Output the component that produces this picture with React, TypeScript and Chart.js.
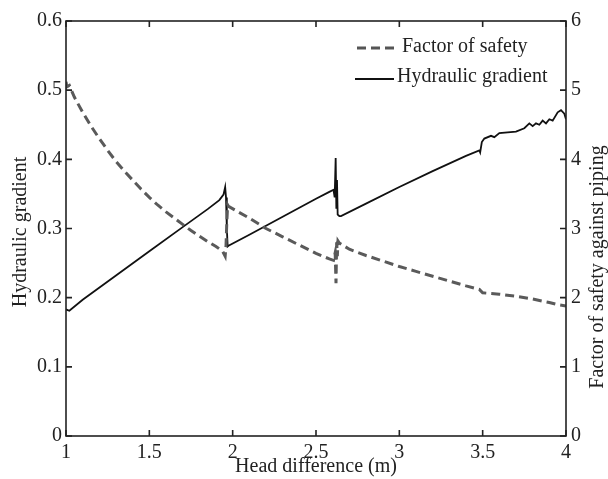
import React, { useEffect, useRef } from "react";
import { Chart, registerables } from "chart.js";

Chart.register(...registerables);

// ---- data ----
const hgHead = [1.0, 1.02, 1.1, 1.3, 1.5, 1.7, 1.85, 1.92, 1.945, 1.955, 1.96, 1.965, 1.97, 1.975, 2.1, 2.3, 2.5, 2.58, 2.605, 2.612, 2.618, 2.622, 2.626, 2.63, 2.64, 2.65, 2.8, 3.0, 3.2, 3.4, 3.48, 3.485, 3.495, 3.51, 3.55, 3.57, 3.6, 3.7, 3.75, 3.78, 3.8, 3.82, 3.84, 3.86, 3.88, 3.9, 3.92, 3.95, 3.97, 3.99, 4.0];
const hgValue = [0.183, 0.181, 0.197, 0.232, 0.267, 0.302, 0.328, 0.341, 0.349, 0.36, 0.345, 0.3, 0.274, 0.275, 0.291, 0.317, 0.343, 0.353, 0.356, 0.345, 0.402, 0.33, 0.37, 0.32, 0.318, 0.318, 0.336, 0.36, 0.383, 0.405, 0.413, 0.41, 0.425, 0.43, 0.434, 0.432, 0.438, 0.44, 0.445, 0.452, 0.448, 0.452, 0.45, 0.456, 0.452, 0.458, 0.456, 0.468, 0.471, 0.466, 0.458];

const fsHead = [1.0, 1.005, 1.02, 1.05, 1.1, 1.15, 1.2, 1.25, 1.3, 1.35, 1.4, 1.45, 1.5, 1.55, 1.6, 1.65, 1.7, 1.75, 1.8, 1.85, 1.9, 1.94, 1.955, 1.96, 1.965, 1.97, 1.975, 2.1, 2.2, 2.3, 2.4, 2.5, 2.58, 2.605, 2.615, 2.62, 2.624, 2.628, 2.632, 2.64, 2.7, 2.8, 2.9, 3.0, 3.1, 3.2, 3.3, 3.4, 3.48, 3.5, 3.55, 3.6, 3.7, 3.8, 3.9, 3.95, 4.0];
const fsValue = [5.12, 5.05, 5.07, 4.9, 4.68, 4.48, 4.3, 4.13, 3.97, 3.83, 3.7, 3.57, 3.45, 3.34, 3.24, 3.15, 3.06, 2.97, 2.89, 2.81, 2.74, 2.67, 2.6, 2.75, 3.1, 3.34, 3.32, 3.15, 3.0, 2.88, 2.76, 2.64, 2.56, 2.54, 2.65, 2.21, 2.8, 2.6, 2.82, 2.79, 2.7, 2.61, 2.53, 2.45, 2.38, 2.31, 2.24, 2.17, 2.12, 2.07, 2.06, 2.05, 2.02, 1.98, 1.93, 1.9, 1.88];

const xTicks = [1, 1.5, 2, 2.5, 3, 3.5, 4];
const yLeftTicks = [0, 0.1, 0.2, 0.3, 0.4, 0.5, 0.6];
const yRightTicks = [0, 1, 2, 3, 4, 5, 6];

const xTitle = "Head difference (m)";
const yLeftTitle = "Hydraulic gradient";
const yRightTitle = "Factor of safety against piping";
const fsName = "Factor of safety";
const hgName = "Hydraulic gradient";

const FONT = "20px 'Liberation Serif', 'Times New Roman', serif";
const TEXT = "#222";

const decorPlugin = {
  id: "decor",
  afterDraw(chart: any) {
    const ctx = chart.ctx as CanvasRenderingContext2D;
    const a = chart.chartArea;
    const sx = chart.scales.x;
    const sl = chart.scales.y;
    const sr = chart.scales.y1;
    ctx.save();
    // box
    ctx.strokeStyle = "#222";
    ctx.lineWidth = 1.6;
    ctx.setLineDash([]);
    ctx.strokeRect(a.left, a.top, a.right - a.left, a.bottom - a.top);
    // ticks (inward)
    const L = 6;
    ctx.beginPath();
    xTicks.forEach((v) => {
      const px = sx.getPixelForValue(v);
      ctx.moveTo(px, a.bottom);
      ctx.lineTo(px, a.bottom - L);
      ctx.moveTo(px, a.top);
      ctx.lineTo(px, a.top + L);
    });
    yLeftTicks.forEach((v) => {
      const py = sl.getPixelForValue(v);
      ctx.moveTo(a.left, py);
      ctx.lineTo(a.left + L, py);
    });
    yRightTicks.forEach((v) => {
      const py = sr.getPixelForValue(v);
      ctx.moveTo(a.right, py);
      ctx.lineTo(a.right - L, py);
    });
    ctx.stroke();

    // titles
    ctx.fillStyle = TEXT;
    ctx.font = FONT;
    ctx.textAlign = "center";
    ctx.textBaseline = "middle";
    ctx.fillText(xTitle, (a.left + a.right) / 2, 467);
    ctx.save();
    ctx.translate(21, 232);
    ctx.rotate(-Math.PI / 2);
    ctx.fillText(yLeftTitle, 0, 0);
    ctx.restore();
    ctx.save();
    ctx.translate(598, 267);
    ctx.rotate(-Math.PI / 2);
    ctx.fillText(yRightTitle, 0, 0);
    ctx.restore();

    // legend
    ctx.textAlign = "left";
    ctx.strokeStyle = "#555";
    ctx.lineWidth = 3;
    ctx.setLineDash([9, 5]);
    ctx.beginPath();
    ctx.moveTo(357, 48);
    ctx.lineTo(398, 48);
    ctx.stroke();
    ctx.fillText(fsName, 402, 47);
    ctx.strokeStyle = "#111";
    ctx.lineWidth = 1.8;
    ctx.setLineDash([]);
    ctx.beginPath();
    ctx.moveTo(355, 79);
    ctx.lineTo(394, 79);
    ctx.stroke();
    ctx.fillText(hgName, 397, 77);
    ctx.restore();
  },
};

export default function App() {
  const ref = useRef<HTMLCanvasElement | null>(null);
  useEffect(() => {
    if (!ref.current) return;
    const tickFont = { family: "'Liberation Serif', 'Times New Roman', serif", size: 20 };
    const chart = new Chart(ref.current, {
      type: "scatter",
      data: {
        datasets: [
          {
            label: fsName,
            data: fsHead.map((x, i) => ({ x, y: fsValue[i] })),
            yAxisID: "y1",
            showLine: true,
            borderColor: "#5a5a5a",
            borderWidth: 3,
            borderDash: [9, 5],
            pointRadius: 0,
            tension: 0,
          },
          {
            label: hgName,
            data: hgHead.map((x, i) => ({ x, y: hgValue[i] })),
            yAxisID: "y",
            showLine: true,
            borderColor: "#111",
            borderWidth: 1.8,
            pointRadius: 0,
            tension: 0,
          },
        ],
      },
      options: {
        responsive: false,
        animation: false,
        layout: { padding: { top: 21, left: 0, right: 0, bottom: 0 } },
        plugins: { legend: { display: false }, tooltip: { enabled: false } },
        scales: {
          x: {
            type: "linear",
            min: 1,
            max: 4,
            afterBuildTicks: (s: any) => {
              s.ticks = xTicks.map((v) => ({ value: v }));
            },
            afterFit: (s: any) => {
              s.height = 43;
            },
            grid: { display: false, drawTicks: false },
            border: { display: false },
            ticks: {
              font: tickFont,
              color: TEXT,
              padding: 5,
              maxRotation: 0,
              autoSkip: false,
              callback: (v: any) => String(v),
            },
          },
          y: {
            type: "linear",
            position: "left",
            min: 0,
            max: 0.6,
            afterBuildTicks: (s: any) => {
              s.ticks = yLeftTicks.map((v) => ({ value: v }));
            },
            afterFit: (s: any) => {
              s.width = 66;
            },
            grid: { display: false, drawTicks: false },
            border: { display: false },
            ticks: {
              font: tickFont,
              color: TEXT,
              padding: 4,
              autoSkip: false,
              callback: (v: any) => String(v),
            },
          },
          y1: {
            type: "linear",
            position: "right",
            min: 0,
            max: 6,
            afterBuildTicks: (s: any) => {
              s.ticks = yRightTicks.map((v) => ({ value: v }));
            },
            afterFit: (s: any) => {
              s.width = 42;
            },
            grid: { display: false, drawTicks: false },
            border: { display: false },
            ticks: {
              font: tickFont,
              color: TEXT,
              padding: 5,
              autoSkip: false,
              callback: (v: any) => String(v),
            },
          },
        },
      },
      plugins: [decorPlugin],
    } as any);
    return () => chart.destroy();
  }, []);
  return (
    <div style={{ position: "fixed", left: 0, top: 0, width: 608, height: 479, background: "#fff" }}>
      <canvas ref={ref} width={608} height={479} />
    </div>
  );
}
